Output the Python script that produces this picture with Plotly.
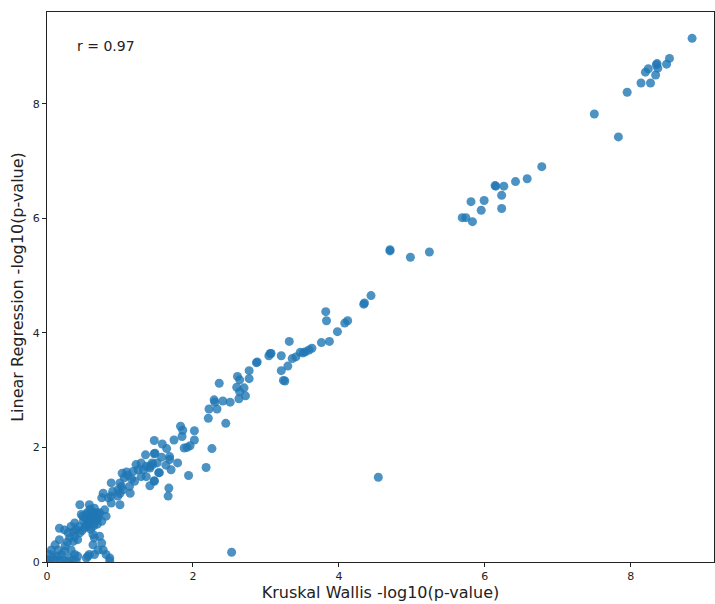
import plotly.graph_objects as go

# -log10(p-value) from the two tests, one entry per feature
kruskal_wallis = [
    8.84, 8.53, 8.49, 8.35, 8.36, 8.37, 8.24, 8.20, 8.34, 8.14, 8.27, 7.95, 7.50, 7.83,
    6.78, 6.58, 6.42, 6.15, 6.26, 6.14, 6.23, 5.99, 5.81, 5.95, 6.23, 5.83, 5.69, 5.74,
    4.70, 4.70, 4.98, 5.24,
    4.44, 4.34, 4.35, 4.12, 4.08, 3.98, 3.82, 3.83, 3.87, 3.76, 3.63, 3.59, 3.54, 3.51,
    3.47, 3.41, 3.36, 3.32, 3.21, 3.07, 3.30, 3.21, 3.26, 3.24,
    3.06, 3.04, 2.88, 2.87, 2.77, 2.77, 2.61, 2.64, 2.36, 2.60, 2.70, 2.64, 2.72, 2.63,
    2.29, 2.30, 2.41, 2.51, 2.33, 2.22, 2.21, 2.45, 2.02, 1.83, 1.86, 1.85, 2.02, 1.74,
    1.96, 1.92, 1.88, 2.26, 1.47, 1.58, 1.64, 1.47, 1.68, 1.57, 1.68, 1.79, 1.63, 1.51,
    1.45, 1.41, 1.70, 1.54, 2.18, 1.94, 1.47, 1.67, 1.66,
    2.53, 4.54,
    1.48, 1.35, 1.44, 1.29, 1.22, 1.36, 1.41, 1.32, 1.25, 1.18, 1.09, 1.03, 1.11, 1.06,
    1.16, 1.29, 1.36, 1.53, 1.47, 1.41, 1.20, 1.00, 0.88, 1.13, 1.04, 0.97, 0.90, 1.14,
    0.77, 0.88, 0.97,
    1.02, 1.00, 0.75, 0.84, 0.88, 1.00, 0.58, 0.45, 0.65, 0.79, 0.68, 0.72, 0.54, 0.47,
    0.52, 0.61, 0.70, 0.81, 0.58, 0.65, 0.54, 0.75, 0.38, 0.33, 0.17, 0.24, 0.40, 0.36,
    0.29, 0.45, 0.38, 0.31, 0.42, 0.36, 0.63, 0.65, 0.72, 0.75, 0.63, 0.17, 0.11, 0.06,
    0.15, 0.24, 0.20, 0.04, 0.33, 0.38, 0.42, 0.31, 0.01, 0.11, 0.22, 0.36, 0.40, 0.00,
    0.54, 0.58, 0.65, 0.70, 0.77, 0.81, 0.86, 0.86, 0.56,
    0.60, 0.62, 0.56, 0.66, 0.50, 0.57, 0.69, 0.60, 0.52, 0.44, 0.48, 0.28, 0.25, 0.14,
    0.08, 0.18, 0.28, 0.05,
    0.62, 0.55, 0.68, 0.59, 0.64, 0.71, 0.49, 0.58,
]
linear_regression = [
    9.14, 8.79, 8.69, 8.68, 8.70, 8.62, 8.61, 8.55, 8.50, 8.36, 8.36, 8.20, 7.82, 7.42,
    6.90, 6.69, 6.64, 6.56, 6.56, 6.57, 6.40, 6.31, 6.29, 6.14, 6.17, 5.94, 6.01, 6.01,
    5.43, 5.45, 5.32, 5.41,
    4.65, 4.50, 4.52, 4.21, 4.17, 4.02, 4.37, 4.21, 3.85, 3.83, 3.73, 3.70, 3.67, 3.65,
    3.66, 3.58, 3.55, 3.85, 3.60, 3.64, 3.42, 3.34, 3.16, 3.17,
    3.64, 3.60, 3.49, 3.48, 3.34, 3.20, 3.24, 3.18, 3.12, 3.05, 3.04, 2.97, 2.90, 2.85,
    2.83, 2.79, 2.81, 2.79, 2.67, 2.67, 2.51, 2.42, 2.29, 2.37, 2.30, 2.19, 2.13, 2.13,
    2.03, 2.00, 1.99, 1.98, 2.12, 2.06, 1.98, 1.89, 1.84, 1.83, 1.79, 1.73, 1.69, 1.73,
    1.70, 1.67, 1.61, 1.56, 1.65, 1.51, 1.41, 1.29, 1.15,
    0.17, 1.48,
    1.90, 1.87, 1.73, 1.73, 1.70, 1.67, 1.64, 1.61, 1.61, 1.58, 1.57, 1.55, 1.51, 1.47,
    1.45, 1.49, 1.49, 1.56, 1.42, 1.33, 1.41, 1.38, 1.38, 1.32, 1.26, 1.26, 1.23, 1.20,
    1.20, 1.15, 1.15,
    1.32, 1.20, 1.12, 1.12, 1.03, 1.00, 1.00, 1.00, 0.94, 0.91, 0.86, 0.86, 0.83, 0.83,
    0.77, 0.80, 0.77, 0.80, 0.71, 0.68, 0.65, 0.71, 0.68, 0.62, 0.59, 0.56, 0.56, 0.53,
    0.51, 0.51, 0.45, 0.42, 0.39, 0.36, 0.48, 0.42, 0.45, 0.33, 0.30, 0.39, 0.30, 0.21,
    0.21, 0.19, 0.13, 0.13, 0.21, 0.13, 0.10, 0.07, 0.04, 0.04, 0.04, 0.04, 0.01, 0.02,
    0.07, 0.13, 0.13, 0.21, 0.21, 0.13, 0.07, 0.02, 0.10,
    0.75, 0.82, 0.70, 0.78, 0.72, 0.62, 0.66, 0.57, 0.60, 0.62, 0.55, 0.35, 0.28, 0.10,
    0.08, 0.02, 0.01, 0.00,
    0.88, 0.86, 0.74, 0.92, 0.63, 0.84, 0.80, 0.67,
]

x_ticks = [0, 2, 4, 6, 8]
y_ticks = [0, 2, 4, 6, 8]
x_label = "Kruskal Wallis -log10(p-value)"
y_label = "Linear Regression -log10(p-value)"
r_label = "r = 0.97"

FONT = "DejaVu Sans"

fig = go.Figure(
    go.Scatter(
        x=kruskal_wallis,
        y=linear_regression,
        mode="markers",
        marker=dict(size=9, color="#1f77b4", opacity=0.8, line=dict(width=0)),
        hoverinfo="x+y",
        showlegend=False,
    )
)

axis_common = dict(
    showline=True,
    linecolor="#222",
    linewidth=1,
    mirror=True,
    showgrid=False,
    zeroline=False,
    ticks="outside",
    ticklen=4,
    tickwidth=1,
    tickcolor="#222",
    tickfont=dict(family=FONT, size=11, color="#222"),
)

fig.update_xaxes(
    range=[0, 9.14],
    tickvals=x_ticks,
    title=dict(text=x_label, font=dict(family=FONT, size=16, color="#222"), standoff=1),
    **axis_common,
)
fig.update_yaxes(
    range=[0, 9.6],
    tickvals=y_ticks,
    title=dict(text=y_label, font=dict(family=FONT, size=16, color="#222"), standoff=5),
    **axis_common,
)

fig.add_annotation(
    x=0.39, y=9.01, xref="x", yref="y",
    text=r_label, showarrow=False, xanchor="left", yanchor="middle",
    font=dict(family=FONT, size=14, color="#222"),
)

fig.update_layout(
    width=715,
    height=604,
    margin=dict(l=47, r=1, t=12, b=42),
    paper_bgcolor="white",
    plot_bgcolor="white",
    font=dict(family=FONT),
)

fig.write_html("out.html")
